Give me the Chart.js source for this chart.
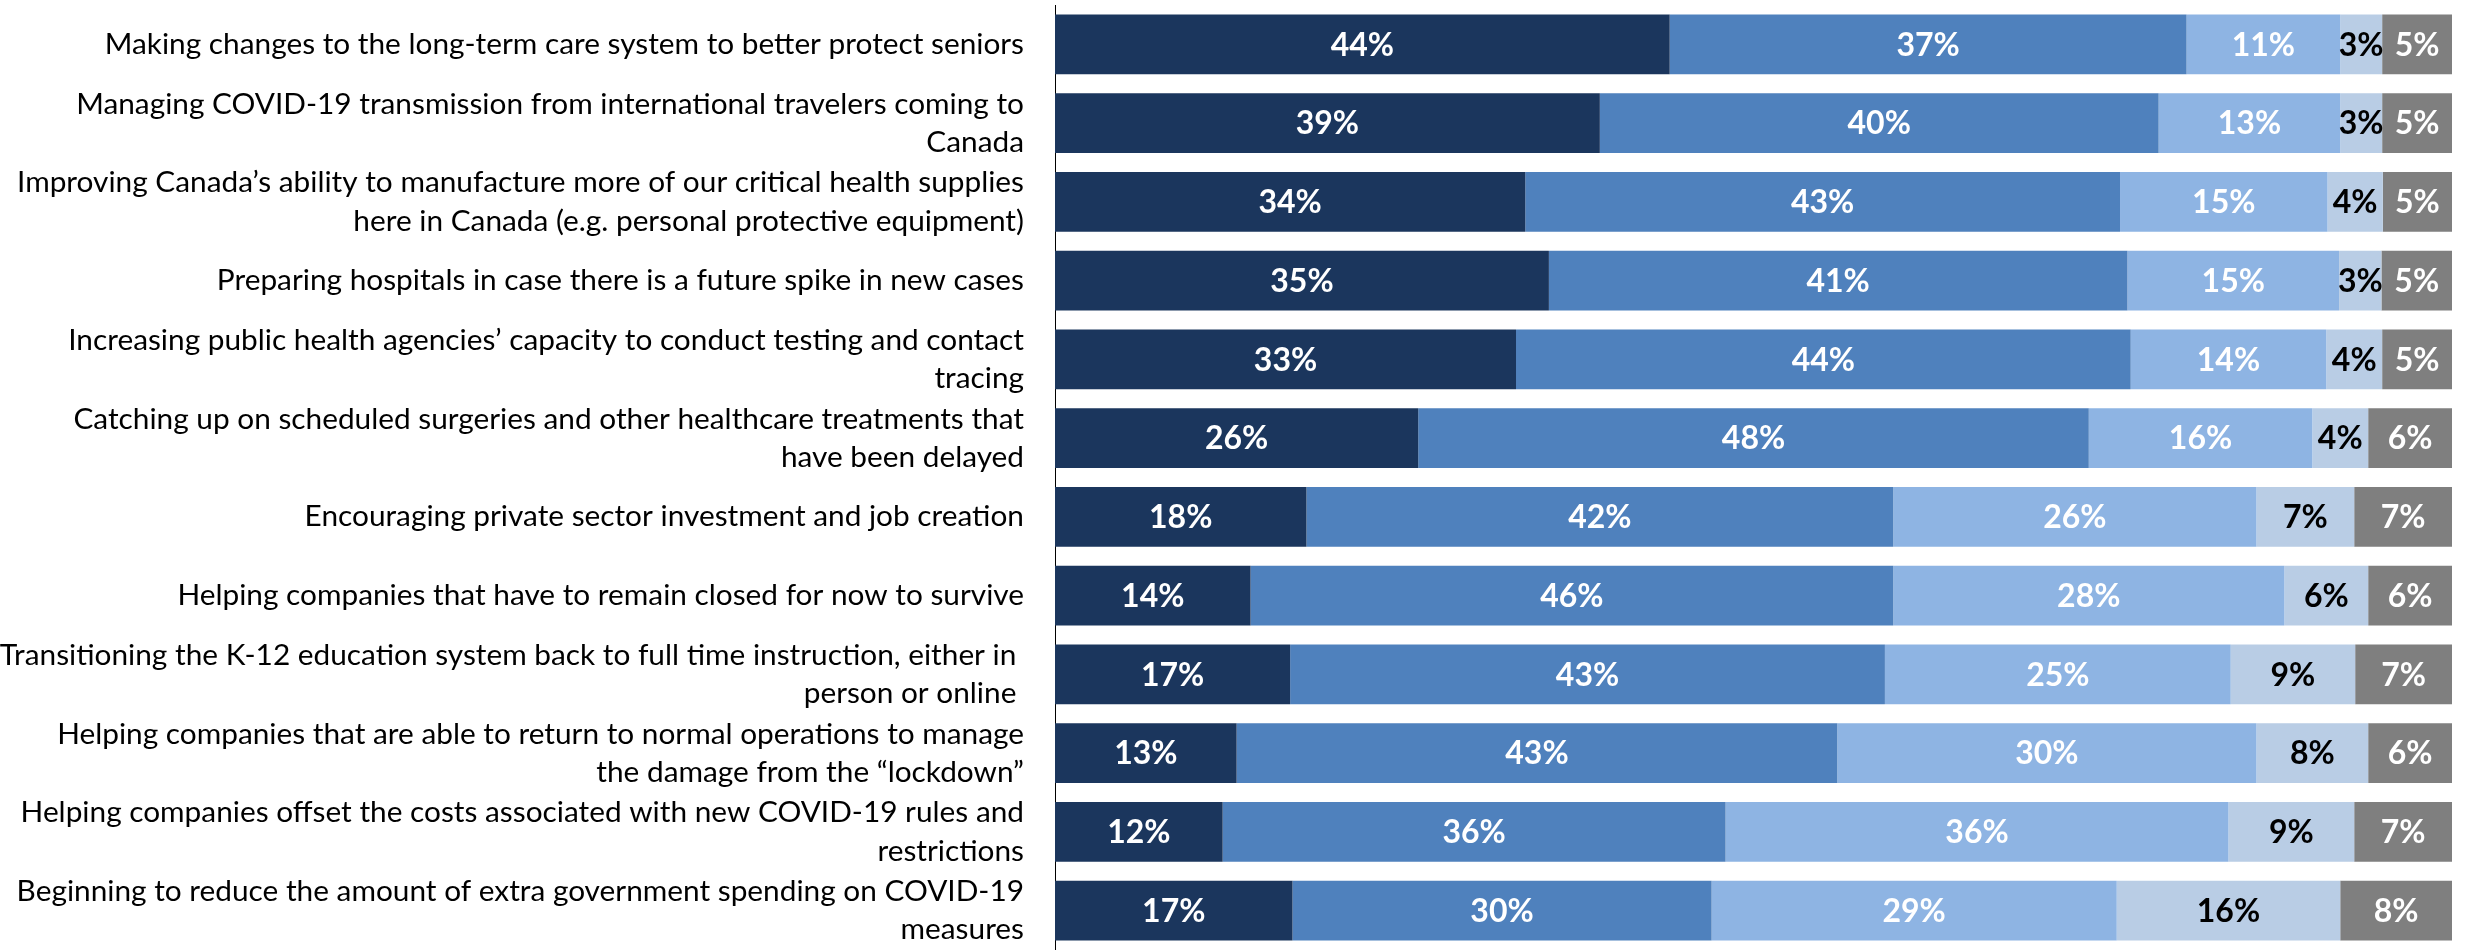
<!DOCTYPE html>
<html>
<head>
<meta charset="utf-8">
<script src="https://cdn.jsdelivr.net/npm/chart.js@4/dist/chart.umd.min.js"></script>
<style>
  html, body { margin: 0; padding: 0; background: #ffffff; }
  #wrap { width: 2471px; height: 950px; position: relative; }
</style>
</head>
<body>
<div id="wrap"><canvas id="c" width="2471" height="950"></canvas></div>
<script>
// ---- Data ----
const categories = [
  "Making changes to the long-term care system to better protect seniors",
  ["Managing COVID-19 transmission from international travelers coming to", "Canada"],
  ["Improving Canada\u2019s ability to manufacture more of our critical health supplies", "here in Canada (e.g. personal protective equipment)"],
  "Preparing hospitals in case there is a future spike in new cases",
  ["Increasing public health agencies\u2019 capacity to conduct testing and contact", "tracing"],
  ["Catching up on scheduled surgeries and other healthcare treatments that", "have been delayed"],
  "Encouraging private sector investment and job creation",
  "Helping companies that have to remain closed for now to survive",
  ["Transitioning the K-12 education system back to full time instruction, either in ", "person or online "],
  ["Helping companies that are able to return to normal operations to manage", "the damage from the \u201clockdown\u201d"],
  ["Helping companies offset the costs associated with new COVID-19 rules and", "restrictions"],
  ["Beginning to reduce the amount of extra government spending on COVID-19", "measures"]
];

const series1 = [44, 39, 34, 35, 33, 26, 18, 14, 17, 13, 12, 17];
const series2 = [37, 40, 43, 41, 44, 48, 42, 46, 43, 43, 36, 30];
const series3 = [11, 13, 15, 15, 14, 16, 26, 28, 25, 30, 36, 29];
const series4 = [3, 3, 4, 3, 4, 4, 7, 6, 9, 8, 9, 16];
const series5 = [5, 5, 5, 5, 5, 6, 7, 6, 7, 6, 7, 8];

const seriesList = [series1, series2, series3, series4, series5];
const seriesColors = ["#1B365D", "#4F81BD", "#8EB4E3", "#B9CDE5", "#7F7F7F"];
const labelColors = ["#FFFFFF", "#FFFFFF", "#FFFFFF", "#000000", "#FFFFFF"];

// each row drawn as share of its own total (rounded labels may sum to 99/101)
const rowTotals = categories.map((_, j) => seriesList.reduce((s, arr) => s + arr[j], 0));

const datasets = seriesList.map((arr, i) => ({
  label: "Series " + (i + 1),
  data: arr.map((v, j) => v / rowTotals[j] * 100),
  backgroundColor: seriesColors[i],
  borderWidth: 0,
  categoryPercentage: 1.0,
  barPercentage: 0.76
}));

const valueLabels = {
  id: "valueLabels",
  afterDatasetsDraw(chart) {
    const ctx = chart.ctx;
    ctx.save();
    ctx.font = "bold 32px Lato, 'Liberation Sans', sans-serif";
    ctx.textAlign = "center";
    ctx.textBaseline = "middle";
    chart.data.datasets.forEach((ds, i) => {
      const meta = chart.getDatasetMeta(i);
      meta.data.forEach((bar, j) => {
        const p = bar.getProps(["x", "y", "base"], true);
        ctx.fillStyle = labelColors[i];
        ctx.fillText(seriesList[i][j] + "%", (p.x + p.base) / 2, p.y + 1);
      });
    });
    ctx.restore();
  }
};

new Chart(document.getElementById("c"), {
  type: "bar",
  data: { labels: categories, datasets: datasets },
  options: {
    indexAxis: "y",
    responsive: false,
    animation: false,
    layout: { padding: { top: 5, right: 19, bottom: 0, left: 0 } },
    plugins: { legend: { display: false }, tooltip: { enabled: false } },
    scales: {
      x: { stacked: true, min: 0, max: 100, display: false },
      y: {
        stacked: true,
        grid: { display: false, drawTicks: false },
        border: { display: true, color: "#000000", width: 1 },
        ticks: {
          autoSkip: false,
          color: "#000000",
          padding: 31,
          font: { family: "Lato, 'Liberation Sans', sans-serif", size: 29.8, lineHeight: 1.28 }
        },
        afterFit(scale) {
          scale.width = 1055;
          scale.paddingTop = 0;
          scale.paddingBottom = 0;
        }
      }
    }
  },
  plugins: [valueLabels]
});
</script>
</body>
</html>
